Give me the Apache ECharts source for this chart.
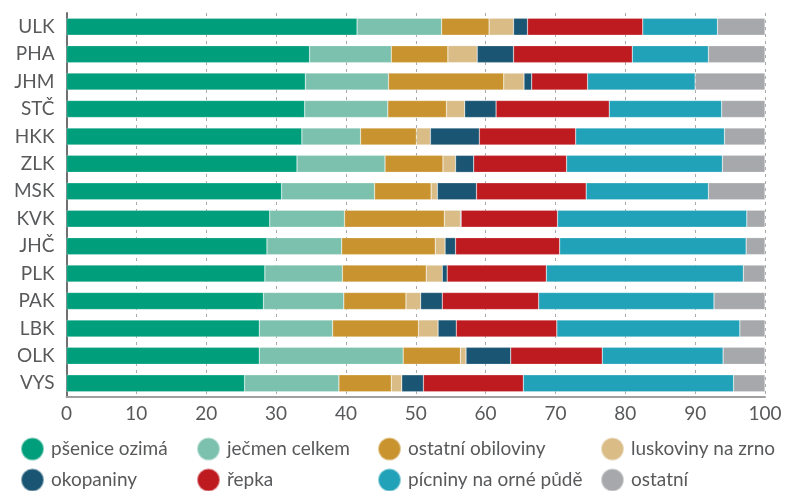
<!DOCTYPE html>
<html><head><meta charset="utf-8">
<script src="https://cdn.jsdelivr.net/npm/echarts@6/dist/echarts.min.js"></script>
<style>html,body{margin:0;padding:0;background:#fff}#c{width:794px;height:491px}</style>
</head><body><div id="c"></div>
<script>
const categories = ['ULK','PHA','JHM','STČ','HKK','ZLK','MSK','KVK','JHČ','PLK','PAK','LBK','OLK','VYS'];
const seriesNames = ['pšenice ozimá','ječmen celkem','ostatní obiloviny','luskoviny na zrno','okopaniny','řepka','pícniny na orné půdě','ostatní'];
const psenice   = [41.6,34.8,34.2,34.1,33.7,33.0,30.8,29.1,28.7,28.4,28.2,27.6,27.6,25.5];
const jecmen    = [12.1,11.7,11.9,11.9, 8.4,12.6,13.3,10.7,10.7,11.1,11.5,10.5,20.6,13.5];
const obiloviny = [ 6.8, 8.1,16.5, 8.4, 8.0, 8.3, 8.1,14.3,13.4,12.0, 8.9,12.3, 8.2, 7.5];
const luskoviny = [ 3.5, 4.2, 2.9, 2.6, 2.0, 1.8, 0.9, 2.3, 1.4, 2.3, 2.1, 2.8, 0.8, 1.5];
const okopaniny = [ 2.0, 5.2, 1.1, 4.5, 7.0, 2.6, 5.6, 0.1, 1.5, 0.7, 3.1, 2.6, 6.4, 3.1];
const repka     = [16.5,17.0, 8.0,16.2,13.8,13.3,15.7,13.8,14.9,14.2,13.8,14.4,13.1,14.3];
const picniny   = [10.7,10.9,15.4,16.1,21.3,22.3,17.5,27.1,26.7,28.2,25.1,26.2,17.3,30.1];
const ostatni   = [ 6.8, 8.1,10.0, 6.2, 5.8, 6.1, 8.1, 2.6, 2.7, 3.1, 7.3, 3.6, 6.0, 4.5];
const xTicks = [0,10,20,30,40,50,60,70,80,90,100];
const colors = ['#009e7b','#7bc1ad','#c9942f','#d9bc86','#1a5673','#be1b21','#22a2b8','#a7a8ab'];
const allData = [psenice,jecmen,obiloviny,luskoviny,okopaniny,repka,picniny,ostatni];

const FONT = 'Lato, "Noto Sans", sans-serif';
const chart = echarts.init(document.getElementById('c'), null, {renderer:'canvas'});
const colLeft = [20, 196, 377, 600];
const rowTop = [436.5, 467.5];
const legends = seriesNames.map((n, i) => ({
  orient:'horizontal',
  left: colLeft[i % 4],
  top: rowTop[Math.floor(i / 4)],
  padding: 0,
  itemWidth: 23, itemHeight: 23,
  icon: 'circle',
  data: [n],
  textStyle: {fontFamily: FONT, fontSize: 19, color:'#58595b', padding:[0,0,0,2]}
}));
chart.setOption({
  animation:false,
  color: colors,
  legend: legends,
  grid: {left:66.5, right:29, top:13, bottom:94, containLabel:false},
  xAxis: {
    type:'value', min:0, max:100, interval:10,
    axisLine:{show:true, lineStyle:{color:'#a0a0a0', width:2}},
    axisTick:{show:false},
    splitLine:{show:true, lineStyle:{color:'#a8a8a8', type:[3,4], width:1}},
    axisLabel:{fontFamily:FONT, fontSize:19, color:'#58595b', margin:7,
      formatter: v => xTicks.includes(v) ? String(v) : ''}
  },
  yAxis: {
    type:'category', data: categories, inverse:true,
    axisLine:{show:true, lineStyle:{color:'#707070', width:2}},
    axisTick:{show:false},
    axisLabel:{fontFamily:FONT, fontSize:19, color:'#58595b', margin:12}
  },
  series: seriesNames.map((n,i) => ({
    name:n, type:'bar', stack:'a', barWidth:'62%',
    itemStyle:{color:colors[i], borderColor:'rgba(255,255,255,0.5)', borderWidth:0.5},
    data: allData[i]
  }))
});
</script></body></html>
